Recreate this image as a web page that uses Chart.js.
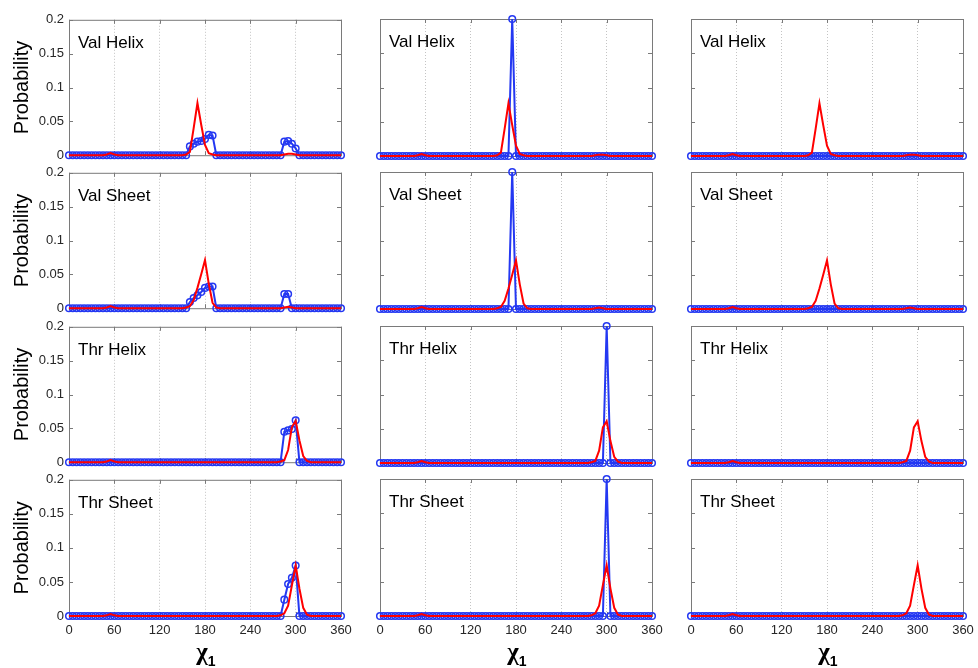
<!DOCTYPE html>
<html>
<head>
<meta charset="utf-8">
<script src="https://cdn.jsdelivr.net/npm/chart.js@4.4.1/dist/chart.umd.min.js"></script>
<style>
  body { margin: 0; background: #fff; width: 978px; height: 668px; overflow: hidden; position: relative; }
  canvas { position: absolute; }
</style>
</head>
<body>
<script>
// -------------------------------
// Data
// -------------------------------
const chiAngles = [0,5,10,15,20,25,30,35,40,45,50,55,60,65,70,75,80,85,90,95,100,105,110,115,120,
  125,130,135,140,145,150,155,160,165,170,175,180,185,190,195,200,205,210,215,220,225,230,235,240,
  245,250,255,260,265,270,275,280,285,290,295,300,305,310,315,320,325,330,335,340,345,350,355,360];
const xTicks = [0, 60, 120, 180, 240, 300, 360];
const yTicks = [0, 0.05, 0.1, 0.15, 0.2];
const yTickLabels = ["0", "0.05", "0.1", "0.15", "0.2"];
const panelLabels = ["Val Helix", "Val Sheet", "Thr Helix", "Thr Sheet"];

// reference distribution (red), same in every column of a row; [angle, probability], zero elsewhere
const valHelixRef = [[50,0.001],[55,0.003],[60,0.001],[155,0.001],[160,0.005],[165,0.04],[170,0.077],
  [175,0.045],[180,0.015],[185,0.003],[190,0.001],[285,0.001],[290,0.002],[295,0.002],[300,0.001]];
const valSheetRef = [[50,0.001],[55,0.003],[60,0.001],[155,0.001],[160,0.003],[165,0.012],[170,0.03],
  [175,0.05],[180,0.071],[185,0.036],[190,0.008],[195,0.001],[285,0.001],[290,0.002],[295,0.001]];
const thrHelixRef = [[50,0.001],[55,0.003],[60,0.001],[280,0.001],[285,0.003],[290,0.018],[295,0.052],
  [300,0.061],[305,0.032],[310,0.009],[315,0.002]];
const thrSheetRef = [[50,0.001],[55,0.003],[60,0.001],[280,0.001],[285,0.004],[290,0.015],[295,0.045],
  [300,0.074],[305,0.04],[310,0.012],[315,0.002]];

// predicted distributions (blue), one per panel
const valHelixA = [[160,0.013],[165,0.017],[170,0.02],[175,0.021],[180,0.024],[185,0.03],[190,0.029],
  [285,0.02],[290,0.021],[295,0.017],[300,0.01]];
const valHelixB = [[175,0.2]];
const valHelixC = [];
const valSheetA = [[160,0.009],[165,0.015],[170,0.019],[175,0.024],[180,0.03],[185,0.032],[190,0.032],
  [285,0.021],[290,0.021]];
const valSheetB = [[175,0.2]];
const valSheetC = [];
const thrHelixA = [[285,0.045],[290,0.047],[295,0.049],[300,0.062]];
const thrHelixB = [[300,0.2]];
const thrHelixC = [];
const thrSheetA = [[285,0.024],[290,0.047],[295,0.056],[300,0.074]];
const thrSheetB = [[300,0.2]];
const thrSheetC = [];

const refRows = [valHelixRef, valSheetRef, thrHelixRef, thrSheetRef];
const predRows = [
  [valHelixA, valHelixB, valHelixC],
  [valSheetA, valSheetB, valSheetC],
  [thrHelixA, thrHelixB, thrHelixC],
  [thrSheetA, thrSheetB, thrSheetC]
];

// -------------------------------
// Layout / style
// -------------------------------
const colLefts = [69, 380, 691];
const rowTops = [19, 172, 326, 479];
const PLOT_W = 272, PLOT_H = 137;
const AXIS_W = 69, PAD = 12, PAD_RIGHT = 26, BOTTOM_AXIS_H = 52;
const BLUE = "#2438f2";
const RED = "#ff0000";
const TICK_FONT = { family: '"Liberation Sans", Arial, sans-serif', size: 13 };

function onGrid(pairs) {
  return chiAngles.map(a => {
    const hit = pairs.find(p => p[0] === a);
    return { x: a, y: hit ? hit[1] : 0 };
  });
}

// box around the axes with inward tick marks (MATLAB style)
const boxPlugin = {
  id: "box",
  beforeDatasetsDraw(chart) {
    const { ctx, chartArea: a, scales } = chart;
    ctx.save();
    ctx.strokeStyle = "#7a7a7a";
    ctx.lineWidth = 1;
    ctx.strokeRect(a.left + 0.5, a.top + 0.5, a.right - a.left, a.bottom - a.top);
    ctx.beginPath();
    xTicks.forEach(v => {
      const px = Math.round(scales.x.getPixelForValue(v)) + 0.5;
      ctx.moveTo(px, a.bottom); ctx.lineTo(px, a.bottom - 4);
      ctx.moveTo(px, a.top); ctx.lineTo(px, a.top + 4);
    });
    yTicks.forEach(v => {
      const py = Math.round(scales.y.getPixelForValue(v)) + 0.5;
      ctx.moveTo(a.left, py); ctx.lineTo(a.left + 4, py);
      ctx.moveTo(a.right, py); ctx.lineTo(a.right - 4, py);
    });
    ctx.stroke();
    ctx.restore();
  }
};

// panel name inside the axes, and the chi_1 axis label under bottom-row panels
const panelLabelPlugin = {
  id: "panelLabel",
  afterDraw(chart, args, opts) {
    const { ctx, chartArea: a } = chart;
    ctx.save();
    ctx.font = '17px "Liberation Sans", Arial, sans-serif';
    ctx.fillStyle = "#000";
    ctx.textBaseline = "alphabetic";
    ctx.fillText(opts.text, a.left + 9, a.top + 28);
    if (opts.xTitle) {
      const cx = (a.left + a.right) / 2;
      ctx.font = 'bold 25px "Liberation Serif", "DejaVu Serif", serif';
      const w = ctx.measureText("χ").width;
      ctx.textAlign = "left";
      ctx.fillText("χ", cx - w / 2 - 3, a.bottom + 44);
      ctx.font = 'bold 14px "Liberation Sans", Arial, sans-serif';
      ctx.fillText("1", cx + w / 2 - 3, a.bottom + 50);
    }
    ctx.restore();
  }
};

// -------------------------------
// Build the 4 x 3 panels
// -------------------------------
panelLabels.forEach((label, r) => {
  colLefts.forEach((left, c) => {
    const bottomRow = r === panelLabels.length - 1;
    const cv = document.createElement("canvas");
    cv.width = AXIS_W + PLOT_W + PAD_RIGHT;
    cv.height = PAD + PLOT_H + (bottomRow ? BOTTOM_AXIS_H : PAD);
    cv.style.left = (left - AXIS_W) + "px";
    cv.style.top = (rowTops[r] - PAD) + "px";
    document.body.appendChild(cv);

    new Chart(cv, {
      type: "line",
      data: {
        datasets: [
          {
            label: "reference",
            data: onGrid(refRows[r]),
            borderColor: RED,
            borderWidth: 2,
            pointRadius: 0,
            order: 0,
            clip: false
          },
          {
            label: "predicted",
            data: onGrid(predRows[r][c]),
            borderColor: BLUE,
            borderWidth: 2,
            pointRadius: 3.3,
            pointBorderWidth: 1.5,
            pointBorderColor: BLUE,
            pointBackgroundColor: "rgba(0,0,0,0)",
            order: 1,
            clip: false
          }
        ]
      },
      options: {
        responsive: false,
        animation: false,
        devicePixelRatio: 1,
        layout: { padding: { left: 0, top: PAD, right: PAD_RIGHT, bottom: bottomRow ? 0 : PAD } },
        elements: { line: { tension: 0 } },
        plugins: {
          legend: { display: false },
          tooltip: { enabled: false },
          panelLabel: { text: label, xTitle: bottomRow }
        },
        scales: {
          x: {
            type: "linear",
            min: 0,
            max: 360,
            afterBuildTicks: s => { s.ticks = xTicks.map(v => ({ value: v })); },
            afterFit: s => { s.height = bottomRow ? BOTTOM_AXIS_H : 0; },
            ticks: { display: bottomRow, padding: 7, font: TICK_FONT, color: "#262626", maxRotation: 0, autoSkip: false },
            grid: { color: "#c4c4c4", lineWidth: 1, drawTicks: false },
            border: { display: false, dash: [1, 2] }
          },
          y: {
            type: "linear",
            min: 0,
            max: 0.2,
            afterBuildTicks: s => { s.ticks = yTicks.map(v => ({ value: v })); },
            afterFit: s => { s.width = AXIS_W; },
            ticks: {
              display: c === 0,
              padding: 5,
              font: TICK_FONT,
              color: "#262626",
              callback: (v, i) => yTickLabels[i]
            },
            grid: { display: false, drawTicks: false },
            border: { display: false },
            title: {
              display: c === 0,
              text: "Probability",
              color: "#000",
              font: { family: '"Liberation Sans", Arial, sans-serif', size: 20, lineHeight: 1.2 },
              padding: { top: 10, bottom: 0 }
            }
          }
        }
      },
      plugins: [boxPlugin, panelLabelPlugin]
    });
  });
});
</script>
</body>
</html>
